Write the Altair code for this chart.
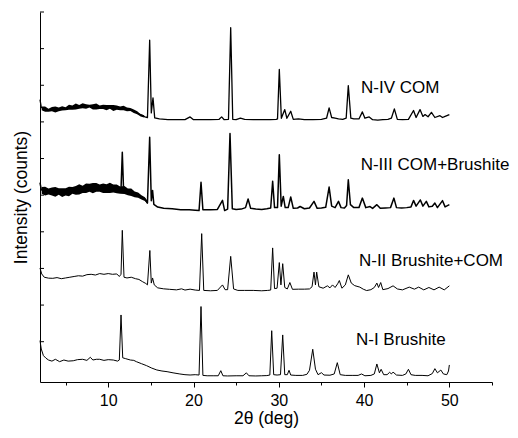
import altair as alt
import pandas as pd

# ---------------- data ----------------
# N-I Brushite (bottom trace)
n1_theta = [2.0, 2.15, 2.4, 2.7, 3.0, 3.4, 3.8, 4.3, 4.8, 5.3, 5.9, 6.4, 7.0, 7.5, 7.9, 8.2, 8.6, 9.0, 9.5, 10.0,
            10.6, 11.1, 11.3, 11.5, 11.7, 12.0, 12.6, 13.0, 13.3, 13.9, 14.5, 15.1, 15.7, 16.3, 16.9, 17.6, 18.4,
            19.0, 19.6, 20.2, 20.65, 20.88, 21.1, 21.6, 22.3, 22.9, 23.2, 23.45, 24.0, 25.0, 25.8, 26.2, 26.5,
            27.3, 28.0, 28.6, 28.95, 29.17, 29.4, 29.8, 30.2, 30.46, 30.7, 31.0, 31.2, 31.4, 32.0, 32.8, 33.3,
            33.6, 33.98, 34.3, 34.6, 35.0, 35.3, 36.0, 36.5, 36.86, 37.2, 37.8, 38.6, 39.3, 39.7, 40.1, 40.8,
            41.2, 41.5, 41.8, 42.0, 42.3, 42.7, 43.0, 43.2, 43.4, 43.8, 44.5, 44.9, 45.2, 45.5, 46.0, 46.8,
            47.5, 48.0, 48.3, 48.6, 49.0, 49.3, 49.7, 49.9, 50.0]
n1_int = [1.03, 0.80, 0.62, 0.55, 0.50, 0.47, 0.52, 0.455, 0.50, 0.47, 0.48, 0.51, 0.52, 0.49, 0.575, 0.50, 0.52,
          0.52, 0.49, 0.51, 0.50, 0.47, 0.50, 1.73, 0.56, 0.54, 0.50, 0.49, 0.455, 0.40, 0.346, 0.28, 0.228, 0.20,
          0.182, 0.15, 0.119, 0.10, 0.091, 0.10, 0.09, 1.96, 0.08, 0.07, 0.07, 0.07, 0.209, 0.07, 0.065, 0.07,
          0.07, 0.15, 0.07, 0.065, 0.07, 0.075, 0.09, 1.30, 0.10, 0.09, 0.10, 1.185, 0.10, 0.10, 0.22, 0.09,
          0.08, 0.08, 0.11, 0.22, 0.794, 0.25, 0.10, 0.154, 0.09, 0.085, 0.12, 0.428, 0.10, 0.08, 0.08, 0.08,
          0.119, 0.07, 0.08, 0.12, 0.392, 0.15, 0.247, 0.10, 0.10, 0.165, 0.12, 0.17, 0.09, 0.08, 0.12, 0.247,
          0.10, 0.08, 0.08, 0.07, 0.13, 0.264, 0.15, 0.227, 0.12, 0.10, 0.20, 0.365]

# N-II Brushite+COM
n2_theta = [2.0, 2.2, 2.5, 3.0, 3.5, 4.0, 4.5, 5.0, 5.5, 6.0, 6.5, 7.0, 7.5, 8.0, 8.5, 9.0, 9.5, 10.0, 10.5, 11.0,
            11.3, 11.5, 11.65, 11.85, 12.2, 12.7, 13.2, 13.6, 14.0, 14.4, 14.6, 14.88, 15.05, 15.2, 15.4, 15.8,
            16.5, 17.2, 18.0, 18.6, 19.0, 19.6, 20.2, 20.7, 20.96, 21.2, 22.0, 22.8, 23.4, 23.7, 24.0, 24.36,
            24.7, 25.2, 26.0, 27.0, 28.0, 28.7, 29.05, 29.28, 29.5, 29.8, 30.06, 30.25, 30.46, 30.7, 31.0, 31.3,
            31.6, 32.3, 33.0, 33.6, 33.9, 34.13, 34.3, 34.44, 34.7, 35.2, 35.7, 36.0, 36.3, 36.6, 36.9, 37.1,
            37.4, 37.8, 38.15, 38.5, 38.9, 39.5, 39.9, 40.3, 40.8, 41.2, 41.5, 41.7, 41.95, 42.2, 42.8, 43.4,
            43.9, 44.5, 45.3, 45.9, 46.4, 47.0, 47.6, 48.2, 48.8, 49.4, 50.0]
n2_int = [3.01, 2.85, 2.76, 2.735, 2.73, 2.75, 2.72, 2.74, 2.76, 2.78, 2.80, 2.79, 2.83, 2.84, 2.82, 2.86, 2.84,
          2.86, 2.84, 2.85, 2.78, 2.84, 4.04, 2.76, 2.74, 2.76, 2.72, 2.70, 2.642, 2.59, 2.552, 3.49, 2.60, 2.74,
          2.55, 2.47, 2.443, 2.43, 2.415, 2.443, 2.41, 2.434, 2.41, 2.40, 3.95, 2.40, 2.39, 2.40, 2.55, 2.42,
          2.42, 3.33, 2.44, 2.40, 2.40, 2.40, 2.39, 2.40, 2.41, 3.56, 2.45, 2.46, 3.16, 2.55, 3.13, 2.48, 2.44,
          2.615, 2.43, 2.434, 2.434, 2.44, 2.50, 2.90, 2.55, 2.90, 2.50, 2.46, 2.525, 2.47, 2.55, 2.48, 2.58,
          2.67, 2.46, 2.55, 2.825, 2.60, 2.53, 2.49, 2.434, 2.396, 2.42, 2.48, 2.60, 2.48, 2.615, 2.42, 2.45,
          2.525, 2.44, 2.415, 2.49, 2.434, 2.49, 2.415, 2.48, 2.415, 2.49, 2.415, 2.525]

# N-III COM+Brushite
n3_theta = [2.0, 2.15, 2.5, 3.0, 3.5, 4.0, 4.5, 5.0, 5.5, 6.0, 6.5, 7.0, 7.5, 8.0, 8.5, 9.0, 9.5, 10.0, 10.5, 11.0,
            11.3, 11.5, 11.65, 11.8, 12.3, 12.8, 13.3, 13.8, 14.3, 14.6, 14.86, 15.05, 15.2, 15.35, 15.8, 16.5,
            17.5, 18.5, 19.5, 20.2, 20.65, 20.88, 21.1, 22.0, 22.8, 23.4, 23.65, 24.0, 24.28, 24.55, 25.0, 25.6,
            26.1, 26.4, 26.7, 27.3, 28.0, 28.6, 29.05, 29.28, 29.5, 29.85, 30.06, 30.28, 30.53, 30.75, 31.1,
            31.4, 31.7, 32.2, 32.5, 33.0, 33.6, 34.13, 34.5, 35.0, 35.5, 35.9, 36.2, 36.6, 37.0, 37.3, 37.7,
            37.95, 38.15, 38.4, 38.8, 39.4, 39.8, 40.2, 40.7, 41.0, 41.5, 41.9, 42.5, 43.1, 43.5, 43.8, 44.4,
            45.0, 45.5, 45.8, 46.1, 46.6, 46.9, 47.3, 47.6, 48.0, 48.3, 48.6, 49.2, 49.5, 50.0]
n3_int = [5.34, 5.15, 5.10, 5.11, 5.09, 5.10, 5.08, 5.075, 5.10, 5.13, 5.15, 5.17, 5.19, 5.196, 5.20, 5.196, 5.18,
          5.196, 5.19, 5.16, 5.15, 5.17, 6.17, 5.14, 5.10, 5.07, 5.01, 4.96, 4.895, 4.786, 6.58, 4.85, 5.13,
          4.75, 4.676, 4.64, 4.63, 4.60, 4.60, 4.59, 4.58, 5.35, 4.60, 4.60, 4.61, 4.857, 4.58, 4.62, 6.68,
          4.63, 4.61, 4.62, 4.66, 4.895, 4.64, 4.62, 4.61, 4.63, 4.65, 5.38, 4.66, 4.66, 6.106, 4.70, 4.966,
          4.66, 4.66, 4.95, 4.64, 4.65, 4.69, 4.63, 4.65, 4.83, 4.64, 4.65, 4.67, 5.22, 4.70, 4.66, 4.83, 4.66,
          4.65, 4.72, 5.42, 4.74, 4.66, 4.66, 4.92, 4.66, 4.69, 4.64, 4.74, 4.64, 4.65, 4.66, 4.92, 4.66, 4.65,
          4.66, 4.68, 4.857, 4.70, 4.87, 4.70, 4.83, 4.68, 4.70, 4.786, 4.66, 4.85, 4.68, 4.74]

# N-IV COM (top trace)
n4_theta = [2.0, 2.15, 2.5, 3.0, 3.5, 4.0, 4.5, 5.0, 5.5, 6.0, 6.5, 7.0, 7.5, 8.0, 8.5, 9.0, 9.5, 10.0, 10.5, 11.0,
            11.5, 12.0, 12.5, 13.0, 13.5, 14.0, 14.3, 14.6, 14.86, 15.05, 15.25, 15.45, 16.0, 17.0, 18.0, 19.0,
            19.6, 20.0, 21.0, 22.0, 23.0, 23.3, 23.6, 24.1, 24.36, 24.6, 25.0, 25.5, 26.0, 27.0, 28.0, 29.0,
            29.7, 29.85, 30.06, 30.3, 30.7, 30.95, 31.4, 31.7, 32.3, 33.0, 34.0, 35.0, 35.6, 35.9, 36.2, 36.6,
            37.0, 37.5, 37.9, 38.15, 38.45, 38.8, 39.4, 39.8, 40.1, 40.6, 41.0, 41.6, 42.2, 42.8, 43.2, 43.55,
            43.9, 44.5, 45.2, 45.8, 46.1, 46.56, 46.9, 47.15, 47.5, 47.9, 48.3, 48.9, 49.2, 49.5, 50.0]
n4_int = [7.61, 7.40, 7.34, 7.336, 7.34, 7.33, 7.356, 7.37, 7.39, 7.41, 7.42, 7.43, 7.43, 7.42, 7.41, 7.41, 7.40,
          7.40, 7.39, 7.383, 7.38, 7.36, 7.336, 7.30, 7.227, 7.18, 7.137, 7.12, 9.23, 7.246, 7.656, 7.11, 7.08,
          7.063, 7.06, 7.063, 7.137, 7.06, 7.06, 7.06, 7.07, 7.137, 7.06, 7.07, 9.57, 7.07, 7.06, 7.10, 7.07,
          7.06, 7.06, 7.06, 7.07, 7.08, 8.43, 7.10, 7.336, 7.10, 7.29, 7.07, 7.08, 7.06, 7.06, 7.07, 7.10,
          7.383, 7.12, 7.10, 7.08, 7.07, 7.10, 7.99, 7.10, 7.08, 7.08, 7.273, 7.10, 7.137, 7.06, 7.05, 7.06,
          7.07, 7.10, 7.356, 7.07, 7.06, 7.07, 7.31, 7.12, 7.336, 7.15, 7.20, 7.14, 7.26, 7.12, 7.17, 7.12,
          7.15, 7.20]

# noisy-background envelopes (centre and half-width of the jitter band)
n3_band_theta = [2.2, 2.6, 3.0, 3.4, 3.8, 4.2, 4.6, 5.0, 5.4, 5.8, 6.2, 6.6, 7.0, 7.4, 7.8, 8.2, 8.6, 9.0, 9.4,
                 9.8, 10.2, 10.6, 11.0, 11.4, 11.9, 12.3, 12.7, 13.1, 13.5, 13.9, 14.3, 14.6]
n3_band_mid = [5.13, 5.11, 5.10, 5.10, 5.09, 5.10, 5.07, 5.09, 5.10, 5.13, 5.13, 5.16, 5.16, 5.19, 5.20, 5.19,
               5.21, 5.19, 5.19, 5.18, 5.20, 5.18, 5.17, 5.14, 5.14, 5.09, 5.08, 5.02, 5.00, 4.94, 4.89, 4.80]
n3_band_half = [0.09, 0.12, 0.08, 0.11, 0.13, 0.09, 0.12, 0.10, 0.13, 0.09, 0.12, 0.14, 0.10, 0.13, 0.11, 0.14,
                0.12, 0.10, 0.13, 0.12, 0.14, 0.11, 0.12, 0.10, 0.11, 0.09, 0.10, 0.08, 0.07, 0.06, 0.05, 0.04]

n4_band_theta = [2.2, 2.6, 3.0, 3.4, 3.8, 4.2, 4.6, 5.0, 5.4, 5.8, 6.2, 6.6, 7.0, 7.4, 7.8, 8.2, 8.6, 9.0, 9.4,
                 9.8, 10.2, 10.6, 11.0, 11.4, 11.8, 12.2, 12.6, 13.0, 13.4, 13.8, 14.2]
n4_band_mid = [7.37, 7.35, 7.32, 7.35, 7.34, 7.34, 7.37, 7.36, 7.40, 7.39, 7.42, 7.41, 7.44, 7.42, 7.43, 7.41,
               7.42, 7.40, 7.41, 7.39, 7.41, 7.38, 7.39, 7.37, 7.38, 7.34, 7.34, 7.29, 7.25, 7.18, 7.15]
n4_band_half = [0.05, 0.07, 0.04, 0.06, 0.08, 0.05, 0.06, 0.04, 0.07, 0.06, 0.08, 0.05, 0.07, 0.06, 0.04, 0.07,
                0.08, 0.05, 0.06, 0.07, 0.05, 0.08, 0.06, 0.05, 0.06, 0.05, 0.04, 0.05, 0.04, 0.03, 0.03]

labels = ["N-IV COM", "N-III COM+Brushite", "N-II Brushite+COM", "N-I Brushite"]
label_theta = [39.64, 39.6, 39.4, 39.05]
label_int = [7.92, 5.83, 3.19, 1.05]

x_tick_values = [5, 10, 15, 20, 25, 30, 35, 40, 45, 50, 55]
y_tick_values = [1, 2, 3, 4, 5, 6, 7, 8, 9, 10]

# ---------------- chart ----------------
FONT = "Liberation Sans"
x_scale = alt.Scale(domain=[2, 55], nice=False, zero=False)
y_scale = alt.Scale(domain=[-0.1, 10], nice=False, zero=False)

x_axis = alt.Axis(
    values=x_tick_values,
    labelExpr="datum.value % 10 === 0 ? datum.label : ''",
    tickSize={"condition": {"test": "datum.value % 10 === 0", "value": 5}, "value": 3},
    title="2θ (deg)", titleFontSize=17.5, titleFontWeight="normal", titlePadding=1,
    labelFontSize=16, labelPadding=5, grid=False,
)
y_axis = alt.Axis(ticks=False, labels=False, grid=False, title="Intensity (counts)",
                  titleFontSize=17.5, titleFontWeight="normal", titlePadding=10)

X = lambda f: alt.X(f, scale=x_scale, axis=x_axis)
Y = lambda f: alt.Y(f, scale=y_scale, axis=y_axis)

traces = [
    ("N-I", n1_theta, n1_int, 1.0),
    ("N-II", n2_theta, n2_int, 1.0),
    ("N-III", n3_theta, n3_int, 1.5),
    ("N-IV", n4_theta, n4_int, 1.3),
]

layers = []
for name, th, it, sw in traces:
    df = pd.DataFrame({"theta": th, "intensity": it, "idx": range(len(th))})
    layers.append(
        alt.Chart(df).mark_line(color="black", strokeWidth=sw, strokeJoin="round")
        .encode(x=X("theta:Q"), y=Y("intensity:Q"), order="idx:Q")
    )

for th, mid, half in [(n3_band_theta, n3_band_mid, n3_band_half),
                      (n4_band_theta, n4_band_mid, n4_band_half)]:
    bdf = pd.DataFrame({"theta": th, "mid": mid, "half": half})
    layers.append(
        alt.Chart(bdf).transform_calculate(intensity="datum.mid - datum.half", hi="datum.mid + datum.half")
        .mark_area(color="black", opacity=1, interpolate="linear")
        .encode(x=X("theta:Q"), y=Y("intensity:Q"), y2="hi:Q")
    )

tick_df = pd.DataFrame({"intensity": y_tick_values})
layers.append(
    alt.Chart(tick_df).mark_rule(color="black", strokeWidth=1)
    .encode(y=Y("intensity:Q"), x=alt.value(0), x2=alt.value(4))
)

lab_df = pd.DataFrame({"label": labels, "theta": label_theta, "intensity": label_int})
layers.append(
    alt.Chart(lab_df).mark_text(align="left", baseline="middle", font=FONT, fontSize=17, color="black")
    .encode(x=X("theta:Q"), y=Y("intensity:Q"), text="label:N")
)

chart = alt.layer(*layers).properties(
    width=452, height=370,
    autosize=alt.AutoSizeParams(type="none"),
    padding={"left": 32, "top": 4, "right": 18, "bottom": 48},
).configure_view(stroke=None).configure_axis(
    domainColor="black", tickColor="black", labelColor="black", titleColor="black",
    labelFont=FONT, titleFont=FONT, domainWidth=1, tickWidth=1,
)

chart.save("out.html", embed_options={"renderer": "svg", "actions": False})
